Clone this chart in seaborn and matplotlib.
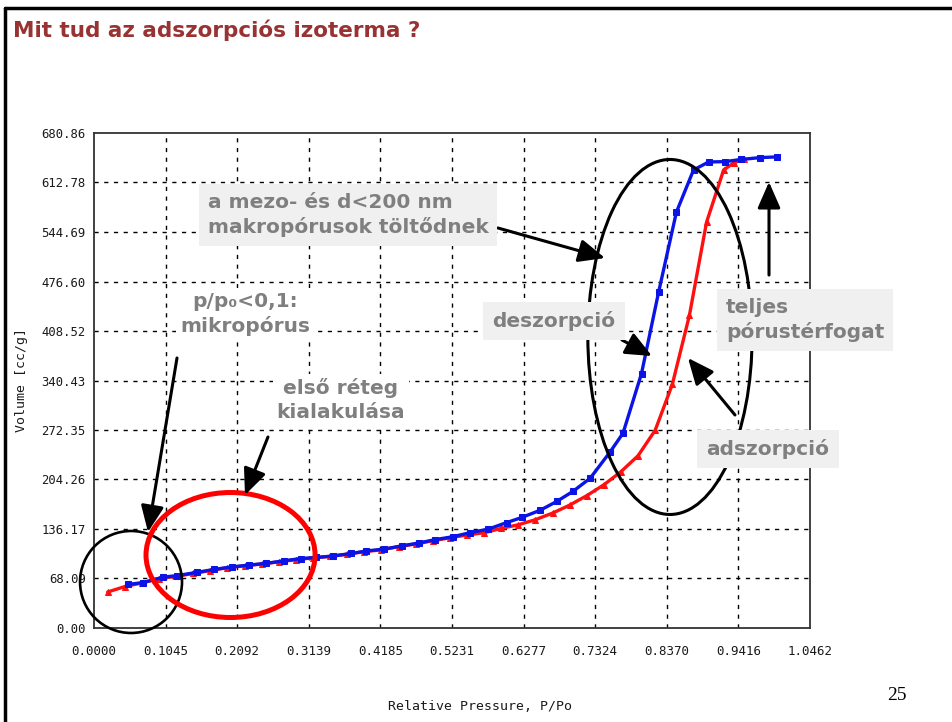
import matplotlib
matplotlib.use("Agg")

import matplotlib.pyplot as plt
import seaborn as sns
from matplotlib.patches import Ellipse
from matplotlib.lines import Line2D

# adsorption branch (red)
ads_p = [0.020, 0.045, 0.070, 0.095, 0.120, 0.145, 0.170, 0.195, 0.220, 0.245,
         0.270, 0.295, 0.320, 0.345, 0.370, 0.395, 0.420, 0.445, 0.470, 0.495,
         0.520, 0.545, 0.570, 0.595, 0.620, 0.645, 0.670, 0.695, 0.720, 0.745,
         0.770, 0.795, 0.820, 0.845, 0.870, 0.895, 0.920, 0.935, 0.950]
ads_v = [49.5, 57, 62, 68, 71, 75, 79, 83, 85.5, 88,
         91, 94, 96.5, 98.5, 101.5, 105, 107.5, 112, 115.5, 120,
         124, 128, 131, 137, 142, 149, 158, 169, 182, 197,
         215, 237, 272, 335, 430, 558, 630, 640, 645]

# desorption branch (blue)
des_p = [0.050, 0.072, 0.101, 0.121, 0.150, 0.175, 0.201, 0.226, 0.252, 0.278,
         0.302, 0.325, 0.349, 0.376, 0.398, 0.424, 0.450, 0.475, 0.498, 0.524,
         0.549, 0.576, 0.603, 0.625, 0.652, 0.676, 0.700, 0.725, 0.754, 0.773,
         0.800, 0.825, 0.851, 0.876, 0.898, 0.922, 0.946, 0.973, 0.998]
des_v = [60, 62.5, 70, 72, 76.5, 80.5, 84, 86.5, 89, 92.5,
         95.5, 97, 99, 102.5, 106, 108.5, 113, 117, 121.5, 125.5,
         131, 136, 145, 152, 162, 174, 188, 206, 242, 268,
         350, 462, 572, 630, 641, 641.5, 644.5, 647, 648]

xticks = [0.0, 0.1046, 0.2092, 0.3139, 0.4185, 0.5231, 0.6277, 0.7324, 0.8370, 0.9416, 1.0462]
xticklabels = ["0.0000", "0.1045", "0.2092", "0.3139", "0.4185", "0.5231",
               "0.6277", "0.7324", "0.8370", "0.9416", "1.0462"]
yticks = [0.00, 68.09, 136.17, 204.26, 272.35, 340.43, 408.52, 476.60, 544.69, 612.78, 680.86]
yticklabels = ["%.2f" % v for v in yticks]

sns.set_style("white")
plt.rcParams["font.family"] = ["DejaVu Sans"]

fig = plt.figure(figsize=(9.52, 7.22), dpi=100)
ax = fig.add_axes([94 / 952, 1 - 628 / 722, 716 / 952, 495 / 722])

for t in xticks[1:-1]:
    ax.axvline(t, color="black", lw=1.0, ls=(0, (3, 4)), zorder=1)
for t in yticks[1:-1]:
    ax.axhline(t, color="black", lw=1.0, ls=(0, (3, 4)), zorder=1)

sns.lineplot(x=ads_p, y=ads_v, ax=ax, color="#ff1010", lw=2.4, marker="^", ms=4,
             mec="#ff1010", sort=False, estimator=None, zorder=3)
sns.lineplot(x=des_p, y=des_v, ax=ax, color="#0a14e6", lw=2.4, marker="s", ms=5,
             mec="#0a14e6", sort=False, estimator=None, zorder=4)

mono = dict(family="DejaVu Sans Mono", color="#1a1a1a")
ax.set_xlim(0, 1.0462)
ax.set_ylim(0, 680.86)
ax.set_xticks(xticks)
ax.set_xticklabels(xticklabels, fontsize=9, **mono)
ax.set_yticks(yticks)
ax.set_yticklabels(yticklabels, fontsize=8.8, **mono)
ax.tick_params(axis="x", length=0, pad=12)
ax.tick_params(axis="y", length=0, pad=6)
for s in ax.spines.values():
    s.set_color("#333333")
    s.set_linewidth(1.3)

ax.set_xlabel("Relative Pressure, P/Po", fontsize=9.5, **mono)
ax.xaxis.set_label_coords(0.539, -0.145)
ax.set_ylabel("Volume [cc/g]", fontsize=9.5, **mono)
ax.yaxis.set_label_coords(-0.092, 0.5)

# circles and ellipses
ax.add_patch(Ellipse((0.0541, 63.3), 0.149, 140.3, fill=False, ec="black", lw=1.9,
                     zorder=6, clip_on=False))
ax.add_patch(Ellipse((0.1995, 100.4), 0.247, 171.9, fill=False, ec="#ff0000", lw=3.6,
                     zorder=6, clip_on=False))
ax.add_patch(Ellipse((0.8416, 400.3), 0.240, 488.3, fill=False, ec="black", lw=2.2,
                     zorder=6, clip_on=False))

# arrows
arrows = [((0.1213, 371.4), (0.0789, 132.0)),
          ((0.2542, 262.7), (0.2206, 182.9)),
          ((0.5903, 550.2), (0.7467, 508.9)),
          ((0.7715, 396.1), (0.8153, 374.1)),
          ((0.9366, 293.0), (0.8679, 371.4)),
          ((0.9863, 485.5), (0.9863, 613.5))]
for start, tip in arrows:
    ax.annotate("", xy=tip, xytext=start, zorder=7,
                arrowprops=dict(arrowstyle="-|>,head_length=0.8,head_width=0.35",
                                mutation_scale=20, color="black", lw=2.2,
                                shrinkA=0, shrinkB=0))

lab = dict(fontsize=14.5, fontweight="bold", color="#7f7f7f", zorder=8, linespacing=1.3)
gray_box = dict(boxstyle="square,pad=0.45", fc="#f0f0f0", ec="none")
white_box = dict(boxstyle="square,pad=0.2", fc="white", ec="none")

ax.text(0.1660, 568.1, "a mezo- és d<200 nm\nmakropórusok töltődnek", ha="left", va="center",
        bbox=gray_box, **lab)
ax.text(0.2206, 431.9, "p/p₀<0,1:\nmikropórus", ha="center", va="center", bbox=white_box, **lab)
ax.text(0.3609, 313.6, "első réteg\nkialakulása", ha="center", va="center", bbox=white_box, **lab)
ax.text(0.6722, 422.3, "deszorpció", ha="center", va="center", bbox=gray_box, **lab)
ax.text(0.9235, 423.6, "teljes\npórustérfogat", ha="left", va="center", bbox=gray_box, **lab)
ax.text(0.9848, 246.2, "adszorpció", ha="center", va="center", bbox=gray_box, **lab)

# slide frame, title and page number
fig.add_artist(Line2D([5 / 952, 5 / 952], [0, 1 - 8 / 722], color="black", lw=2.5))
fig.add_artist(Line2D([5 / 952, 1], [1 - 8 / 722, 1 - 8 / 722], color="black", lw=2.5))
fig.text(13 / 952, 1 - 30 / 722, "Mit tud az adszorpciós izoterma ?", ha="left", va="center",
         fontsize=15.5, fontweight="bold", color="#993333")
fig.text(897 / 952, 1 - 695 / 722, "25", ha="center", va="center", fontsize=14,
         family="Liberation Serif", color="black")

fig.savefig("out.png", dpi=100)
